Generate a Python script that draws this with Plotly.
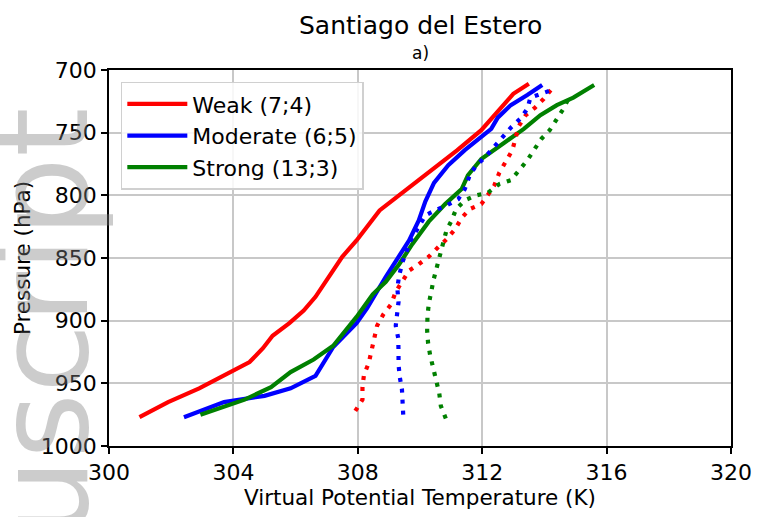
import plotly.graph_objects as go

# Virtual potential temperature profiles (K) against pressure (hPa)
weak_T = [300.98, 301.9, 302.9, 303.9, 304.52, 304.95, 305.26, 305.8, 306.26, 306.64, 307.12, 307.5,
          307.96, 308.3, 308.7, 309.22, 309.8, 310.45, 311.2, 311.97, 312.3, 312.7, 313.0, 313.5]
weak_P = [977, 965, 954, 941, 933, 922, 912, 902, 892, 881, 863, 849,
          836, 825, 812, 802, 791, 778, 764, 748, 739, 728, 719, 711]

moderate_T = [302.41, 303.7, 305.0, 305.84, 306.64, 307.21, 307.96, 308.3, 308.9, 309.22, 309.65,
              309.96, 310.17, 310.45, 310.91, 311.44, 311.97, 312.29, 312.5, 312.92, 313.45, 313.93]
moderate_P = [977, 965, 960, 954, 944, 921, 902, 890, 865, 852, 836,
              820, 805, 790, 776, 764, 754, 747, 738, 728, 720, 712]

strong_T = [302.94, 304.36, 305.21, 305.84, 306.58, 307.21, 307.96, 308.2, 308.48, 308.9, 309.33,
            309.75, 310.28, 310.81, 311.34, 311.54, 311.97, 312.71, 313.34, 313.87, 314.4, 314.93, 315.6]
strong_P = [975, 963, 953, 941, 931, 920, 897, 888, 879, 869, 855,
            839, 821, 807, 795, 784, 771, 758, 747, 736, 728, 722, 712]

weak_dot_T = [307.92, 308.15, 308.15, 308.2, 308.35, 308.45, 308.54, 308.62, 308.82, 309.07, 309.22,
              309.65, 309.96, 310.28, 310.6, 310.86, 311.13, 311.34, 311.6, 311.97, 312.23, 312.39,
              312.55, 312.76, 312.97, 313.17, 313.4, 313.7, 313.98, 314.24]
weak_dot_P = [972, 963, 953, 943, 934, 924, 914, 904, 895, 887, 877,
              860, 855, 849, 841, 835, 827, 818, 811, 807, 798, 792,
              782, 773, 764, 745, 736, 730, 723, 715]

moderate_dot_T = [309.46, 309.44, 309.42, 309.35, 309.31, 309.31, 309.3, 309.22, 309.25, 309.31, 309.27,
                  309.33, 309.44, 309.7, 309.96, 310.17, 310.49, 310.86, 311.23, 311.44, 311.6, 311.81,
                  312.08, 312.37, 312.66, 312.92, 313.22, 313.45, 313.55, 313.98, 314.35]
moderate_dot_P = [975, 965, 955, 945, 935, 925, 914, 904, 894, 885, 874,
                  864, 853, 836, 825, 816, 812, 808, 803, 795, 784, 776,
                  770, 762, 754, 746, 739, 731, 722, 718, 715]

strong_dot_T = [310.83, 310.67, 310.62, 310.52, 310.42, 310.33, 310.26, 310.23, 310.24, 310.28, 310.44,
                310.54, 310.67, 310.8, 310.85, 311.02, 311.16, 311.44, 311.81, 312.18, 312.55, 312.92,
                313.24, 313.45, 313.66, 313.9, 314.17, 314.4, 314.61, 314.77]
strong_dot_P = [978, 968, 958, 948, 938, 928, 918, 908, 897, 887, 867,
                857, 847, 834, 828, 820, 811, 804, 800, 798, 791, 788,
                778, 772, 764, 755, 748, 739, 731, 723]

labels = ["Weak (7;4)", "Moderate (6;5)", "Strong (13;3)"]
colors = ["#ff0000", "#0000ff", "#008000"]

x_ticks = [300, 304, 308, 312, 316, 320]
y_ticks = [700, 750, 800, 850, 900, 950, 1000]

FONT = "DejaVu Sans"

fig = go.Figure()

solid = [(weak_T, weak_P), (moderate_T, moderate_P), (strong_T, strong_P)]
dotted = [(weak_dot_T, weak_dot_P), (moderate_dot_T, moderate_dot_P), (strong_dot_T, strong_dot_P)]

for i, ((t, p), name, c) in enumerate(zip(solid, labels, colors)):
    fig.add_trace(go.Scatter(x=t, y=p, mode="lines", name=name, legendgroup=f"g{i}",
                             line=dict(color=c, width=4.2)))

for i, ((t, p), name, c) in enumerate(zip(dotted, labels, colors)):
    fig.add_trace(go.Scatter(x=t, y=p, mode="lines", name=name, showlegend=False,
                             legendgroup=f"g{i}",
                             line=dict(color=c, width=4.2, dash="4px,7px")))

axis_common = dict(
    showline=True, linecolor="black", linewidth=1.5, mirror=True,
    ticks="outside", ticklen=6, tickwidth=1.5, tickcolor="black",
    showgrid=True, gridcolor="#c8c8c8", gridwidth=1.5,
    zeroline=False,
    tickfont=dict(family=FONT, size=22, color="black"),
)

fig.update_xaxes(range=[300, 320], tickvals=x_ticks, ticktext=[str(v) for v in x_ticks],
                 title=dict(text="Virtual Potential Temperature (K)",
                            font=dict(family=FONT, size=21.5, color="black"), standoff=2),
                 **axis_common)
fig.update_yaxes(range=[1000, 700], tickvals=y_ticks, ticktext=[str(v) for v in y_ticks],
                 title=dict(text="Pressure (hPa)",
                            font=dict(family=FONT, size=21.5, color="black"), standoff=4),
                 **axis_common)

fig.update_layout(
    width=764, height=517,
    margin=dict(l=109, r=23, t=70, b=71),
    paper_bgcolor="white", plot_bgcolor="white",
    showlegend=True,
    legend=dict(x=0.019, y=0.969, xanchor="left", yanchor="top",
                bgcolor="rgba(255,255,255,0.85)", bordercolor="#d0d0d0", borderwidth=1.5,
                font=dict(family=FONT, size=22, color="black"),
                itemwidth=60, tracegroupgap=0),
    annotations=[
        dict(text="Santiago del Estero", xref="paper", yref="paper", x=0.5, y=1.0,
             yshift=45, xanchor="center", yanchor="middle", showarrow=False,
             font=dict(family=FONT, size=25, color="black")),
        dict(text="a)", xref="paper", yref="paper", x=0.5, y=1.0,
             yshift=17, xanchor="center", yanchor="middle", showarrow=False,
             font=dict(family=FONT, size=17, color="black")),
        dict(text="Manuscript", xref="paper", yref="paper", x=-0.106, y=0.905,
             xanchor="center", yanchor="top", textangle=-90, showarrow=False,
             font=dict(family=FONT, size=126, color="rgba(128,128,128,0.4)")),
    ],
)

fig.write_html("out.html")
